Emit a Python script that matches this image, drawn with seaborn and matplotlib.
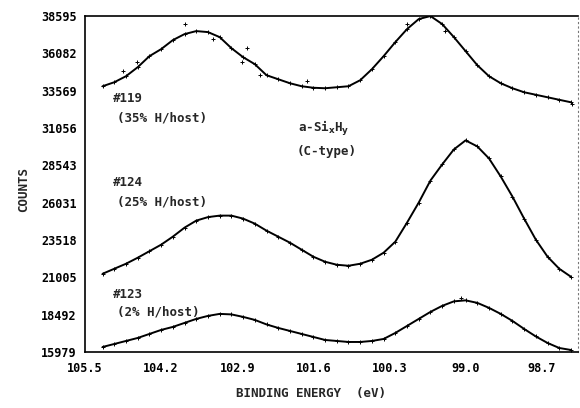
import numpy as np
import pandas as pd
import matplotlib
matplotlib.use("Agg")
import matplotlib.pyplot as plt
import seaborn as sns

# ---------------- data ----------------
energy = [105.2, 105.0, 104.8, 104.6, 104.4, 104.2, 104.0, 103.8, 103.6, 103.4,
          103.2, 103.0, 102.8, 102.6, 102.4, 102.2, 102.0, 101.8, 101.6, 101.4,
          101.2, 101.0, 100.8, 100.6, 100.4, 100.2, 100.0, 99.8, 99.6, 99.4,
          99.2, 99.0, 98.8, 98.6, 98.4, 98.2, 98.0, 97.8, 97.6, 97.4, 97.2]

counts_119 = [33867, 34137, 34542, 35149, 35892, 36364, 36972, 37377, 37579, 37512,
              37174, 36432, 35824, 35352, 34609, 34339, 34069, 33867, 33765, 33732,
              33799, 33867, 34272, 35014, 35892, 36837, 37714, 38389, 38592, 38052,
              37174, 36229, 35284, 34542, 34069, 33732, 33462, 33293, 33124, 32955,
              32787]

counts_124 = [21244, 21582, 21919, 22324, 22763, 23202, 23742, 24349, 24822, 25058,
              25159, 25159, 24957, 24619, 24147, 23742, 23337, 22864, 22392, 22054,
              21852, 21784, 21919, 22189, 22662, 23404, 24687, 26037, 27522, 28602,
              29614, 30222, 29817, 29007, 27792, 26442, 24957, 23539, 22392, 21582,
              21042]

counts_123 = [16317, 16519, 16722, 16924, 17194, 17464, 17667, 17937, 18207, 18409,
              18544, 18510, 18342, 18139, 17835, 17599, 17397, 17194, 16992, 16789,
              16722, 16654, 16654, 16722, 16857, 17262, 17734, 18207, 18679, 19084,
              19388, 19455, 19287, 18949, 18544, 18072, 17532, 17025, 16587, 16249,
              16114]

# scattered measured points off the fit (sample #119 and #123)
extra_energy = [103.79, 103.32, 102.74, 102.82, 102.51, 101.71, 104.85, 104.61,
                100.0, 99.36, 97.19, 99.08]
extra_counts = [38052, 37039, 36432, 35487, 34609, 34204, 34879, 35487,
                38052, 37579, 32652, 19624]

x_ticks = [105.5, 104.85, 104.2, 103.55, 102.9, 102.25, 101.6, 100.95,
           100.3, 99.65, 99.0, 98.35, 97.7]
x_ticklabels = ["105.5", "", "104.2", "", "102.9", "", "101.6", "",
                "100.3", "", "99.0", "", "98.7"]
y_ticks = [15979, 18492, 21005, 23518, 26031, 28543, 31056, 33569, 36082, 38595]

# ---------------- figure ----------------
sns.set_style("white")
plt.rcParams["font.family"] = ["DejaVu Sans Mono", "DejaVu Sans"]
plt.rcParams["font.weight"] = "bold"

fig = plt.figure(figsize=(5.8, 4.08), dpi=100)
ax = fig.add_axes([85 / 580, 1 - 352 / 408, 493 / 580, 336 / 408])

df = pd.DataFrame({
    "energy": energy * 3,
    "counts": counts_119 + counts_124 + counts_123,
    "sample": ["#119"] * len(energy) + ["#124"] * len(energy) + ["#123"] * len(energy),
})
pal = {"#119": "black", "#124": "black", "#123": "black"}
sns.lineplot(data=df, x="energy", y="counts", hue="sample", palette=pal,
             linewidth=1.4, legend=False, ax=ax, sort=False, estimator=None,
             units="sample")
sns.scatterplot(data=df, x="energy", y="counts", color="black", marker="+",
                s=10, linewidth=0.7, legend=False, ax=ax)
sns.scatterplot(x=extra_energy, y=extra_counts, color="black", marker="+",
                s=10, linewidth=0.7, legend=False, ax=ax)

ax.set_xlim(105.5, 97.08)
ax.set_ylim(15979, 38595)
ax.set_xticks(x_ticks)
ax.set_xticklabels(x_ticklabels)
ax.set_yticks(y_ticks)
ax.set_yticklabels([str(v) for v in y_ticks])
ax.tick_params(axis="both", direction="in", length=11, width=1.0,
               labelsize=8.5, colors="black")
ax.tick_params(axis="x", pad=7)
ax.tick_params(axis="y", pad=6)
for lab in ax.get_xticklabels() + ax.get_yticklabels():
    lab.set_fontweight("bold")

for s in ["left", "bottom", "top"]:
    ax.spines[s].set_color("black")
    ax.spines[s].set_linewidth(1.2)
ax.spines["right"].set_color("#777777")
ax.spines["right"].set_linewidth(0.8)
ax.spines["right"].set_linestyle((0, (1, 3)))

ax.set_xlabel("")
ax.set_ylabel("")
fig.text(311 / 580, 1 - 393 / 408, "BINDING ENERGY  (eV)", ha="center", va="center",
         fontsize=9, fontweight="bold")
fig.text(24 / 580, 1 - 190 / 408, "COUNTS", ha="center", va="center",
         rotation=90, fontsize=9, fontweight="bold")

tk = dict(fontsize=9, fontweight="bold", ha="left", va="center")
fig.text(113 / 580, 1 - 98 / 408, "#119", **tk)
fig.text(117 / 580, 1 - 118 / 408, "(35% H/host)", **tk)
fig.text(113 / 580, 1 - 183 / 408, "#124", **tk)
fig.text(117 / 580, 1 - 202 / 408, "(25% H/host)", **tk)
fig.text(113 / 580, 1 - 294 / 408, "#123", **tk)
fig.text(117 / 580, 1 - 312 / 408, "(2% H/host)", **tk)
fig.text(298 / 580, 1 - 129 / 408, r"a-Si$_{\mathbf{x}}$H$_{\mathbf{y}}$", **tk)
fig.text(297 / 580, 1 - 152 / 408, "(C-type)", **tk)

fig.savefig("out.png", dpi=100)
